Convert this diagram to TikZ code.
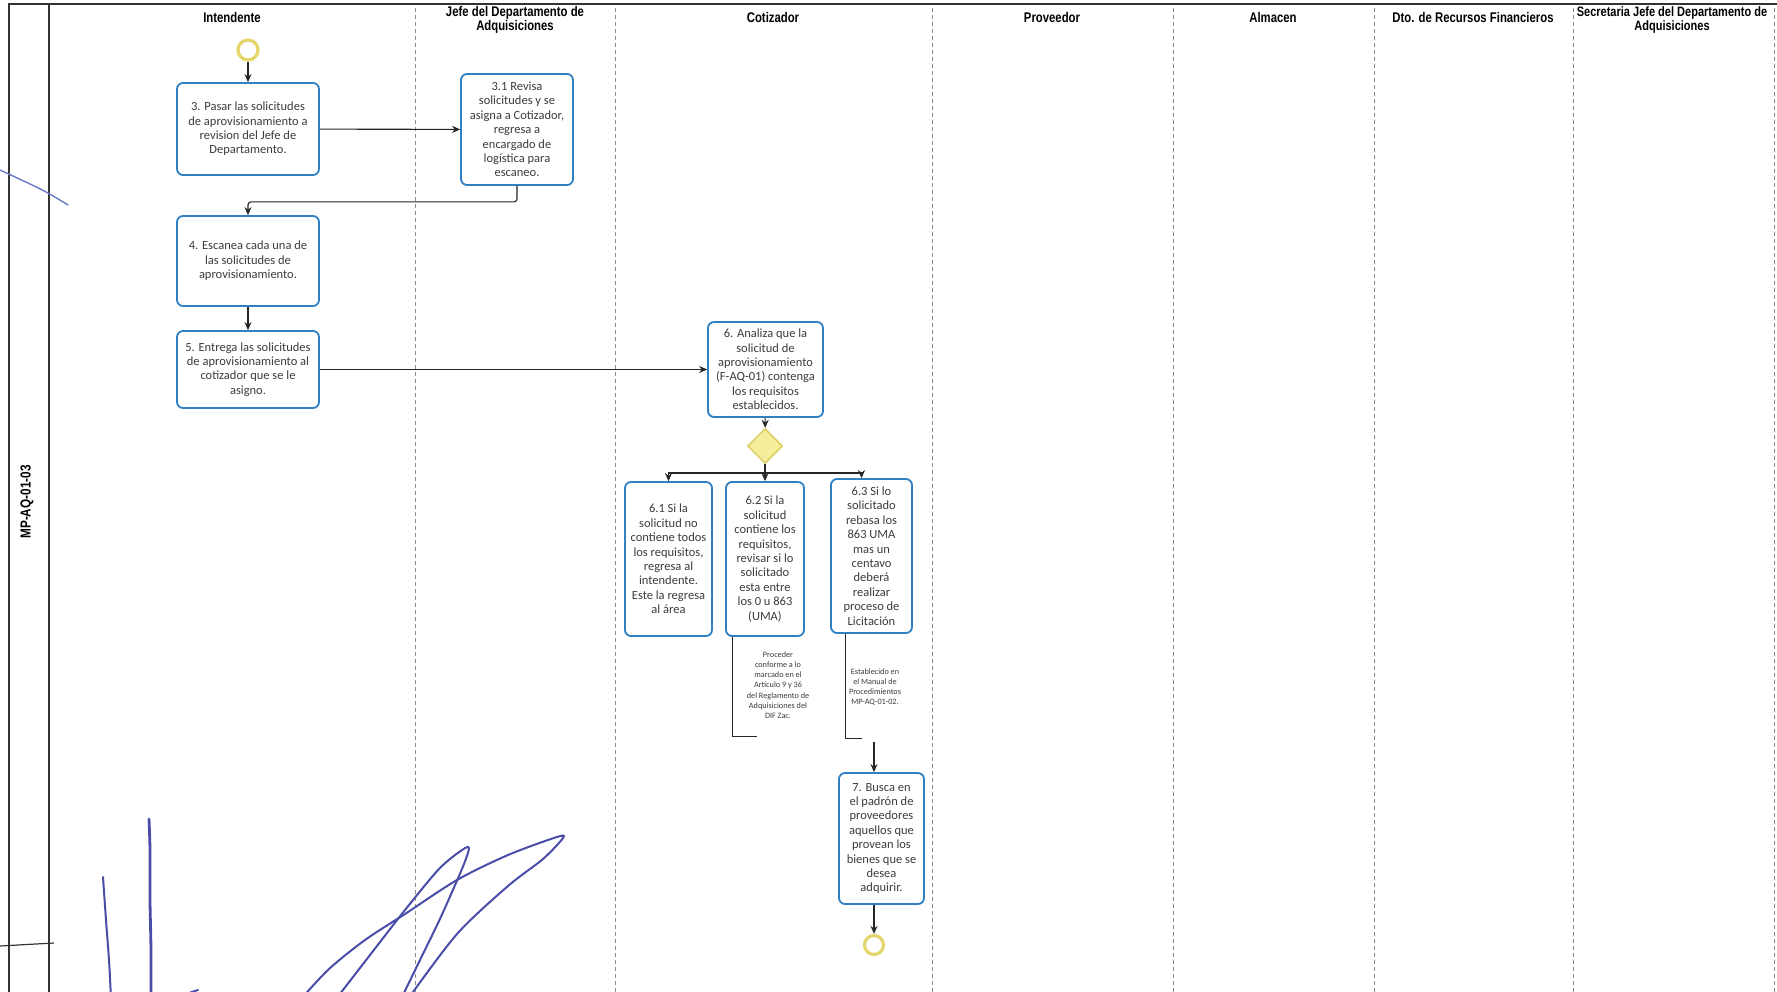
\documentclass[tikz,border=0pt]{standalone}
\usepackage{fontspec}
\setmainfont{Carlito}
\newfontfamily\hdrfont[FakeStretch=0.81]{Liberation Sans}
\usetikzlibrary{arrows.meta,shapes.geometric}

\definecolor{taskblue}{HTML}{2F80C4}
\definecolor{tasktext}{HTML}{3C3C3C}
\definecolor{flowgray}{HTML}{262626}
\definecolor{lanegray}{HTML}{8C8C8C}
\definecolor{eventring}{HTML}{E3D66A}
\definecolor{gatefill}{HTML}{F6EE9C}
\definecolor{gatedraw}{HTML}{DCCF62}
\definecolor{ink}{HTML}{4A4DA8}
\definecolor{inklight}{HTML}{6A78C8}

\tikzset{
  task/.style={draw=taskblue, line width=1.8pt, rounded corners=6pt, fill=white,
    text=tasktext, align=center, inner sep=0pt, font=\fontsize{12.5}{14.4}\selectfont},
  flow/.style={draw=flowgray, line width=1.1pt, -{Stealth[length=8pt,width=7pt]}},
  annot/.style={draw=flowgray, line width=1.1pt},
  note/.style={text=tasktext, align=center, font=\fontsize{8.2}{10.2}\selectfont, inner sep=0pt},
  lanehdr/.style={font=\hdrfont\bfseries\fontsize{14}{14}\selectfont, align=center, inner sep=0pt},
  lanesep/.style={draw=lanegray, line width=0.9pt, dash pattern=on 4pt off 3pt},
  frameline/.style={draw=black!80, line width=1.4pt},
  event/.style={circle, draw=eventring, line width=3.2pt, fill=white, minimum size=20pt, inner sep=0pt},
  gateway/.style={diamond, aspect=1, draw=gatedraw, fill=gatefill, line width=1.5pt,
    minimum width=35pt, minimum height=35pt, inner sep=0pt},
  pen/.style={draw=ink, line width=2pt, line cap=round, line join=round},
}

\begin{document}
\begin{tikzpicture}[x=1pt,y=-1pt]
\clip (0,0) rectangle (1777,992);
\fill[white] (0,0) rectangle (1777,992);

% pool frame and lane label column
\draw[frameline] (9,992) -- (9,4) -- (1777,4);
\draw[frameline] (49,4) -- (49,992);
\node[lanehdr, rotate=90, font=\hdrfont\bfseries\fontsize{14.5}{14.5}\selectfont] (pool) at (27,502) {MP-AQ-01-03};

% lane separators
\foreach \lx in {415,615,932,1173,1374,1573,1774}
  \draw[lanesep] (\lx,8) -- (\lx,992);

% lane headers
\node[lanehdr] (h1) at (232,18) {Intendente};
\node[lanehdr] (h2) at (515,20) {Jefe del Departamento de\\Adquisiciones};
\node[lanehdr] (h3) at (773,18) {Cotizador};
\node[lanehdr] (h4) at (1052,18) {Proveedor};
\node[lanehdr] (h5) at (1273,18) {Almacen};
\node[lanehdr] (h6) at (1473,18) {Dto. de Recursos Financieros};
\node[lanehdr, font=\hdrfont\bfseries\fontsize{13.6}{14}\selectfont] (h7) at (1672,20) {Secretaria Jefe del Departamento de\\Adquisiciones};

% events and gateway
\node[event] (startev) at (248,50) {};
\node[event, minimum size=19pt] (endev) at (874,945) {};
\node[gateway] (gw) at (765,446) {};

% tasks
\node[task, minimum width=142pt, minimum height=92pt] (t3) at (248,129)
  {3. Pasar las solicitudes\\de aprovisionamiento a\\revision del Jefe de\\Departamento.};
\node[task, minimum width=112pt, minimum height=111pt] (t31) at (517,129.5)
  {3.1 Revisa\\solicitudes y se\\asigna a Cotizador,\\regresa a\\encargado de\\logística para\\escaneo.};
\node[task, minimum width=142pt, minimum height=90pt] (t4) at (248,261)
  {4. Escanea cada una de\\las solicitudes de\\aprovisionamiento.};
\node[task, minimum width=142pt, minimum height=77pt] (t5) at (248,369.5)
  {5. Entrega las solicitudes\\de aprovisionamiento al\\cotizador que se le\\asigno.};
\node[task, minimum width=115pt, minimum height=95pt] (t6) at (765.5,369.5)
  {6. Analiza que la\\solicitud de\\aprovisionamiento\\(F-AQ-01) contenga\\los requisitos\\establecidos.};
\node[task, minimum width=87pt, minimum height=154pt] (t61) at (668.5,559)
  {6.1 Si la\\solicitud no\\contiene todos\\los requisitos,\\regresa al\\intendente.\\Este la regresa\\al área};
\node[task, minimum width=78pt, minimum height=154pt] (t62) at (765,559)
  {6.2 Si la\\solicitud\\contiene los\\requisitos,\\revisar si lo\\solicitado\\esta entre\\los 0 u 863\\(UMA)};
\node[task, minimum width=81pt, minimum height=154pt] (t63) at (871.5,556)
  {6.3 Si lo\\solicitado\\rebasa los\\863 UMA\\mas un\\centavo\\deberá\\realizar\\proceso de\\Licitación};
\node[task, minimum width=85pt, minimum height=131pt] (t7) at (881.5,838.5)
  {7. Busca en\\el padrón de\\proveedores\\aquellos que\\provean los\\bienes que se\\desea\\adquirir.};

% text annotations
\node[note] (n62) at (778,685)
  {Proceder\\conforme a lo\\marcado en el\\Artículo 9 y 36\\del Reglamento de\\Adquisiciones del\\DIF Zac.};
\node[note] (n63) at (875,687)
  {Establecido en\\el Manual de\\Procedimientos\\MP-AQ-01-02.};

% sequence flows
\draw[flow] (startev) -- (t3);
\draw[flow] (t3) -- (t31);
\draw[flow, rounded corners=3pt] (t31.south) -- ++(0,16) -| (t4.north);
\draw[flow] (t4) -- (t5);
\draw[flow] (t5) -- (t6);
\draw[flow] (t6) -- (gw);

\coordinate (split) at (765,473);
\coordinate (in63) at ([xshift=-10pt]t63.north);
\draw[annot] (gw.south) -- (split);
\draw[flow] (split) -| (t61.north);
\draw[flow] (split) -- (t62.north);
\draw[flow] (split) -| (in63);

% annotation brackets
\coordinate (a62) at ([xshift=7pt]t62.south west);
\coordinate (a63) at ([xshift=15pt]t63.south west);
\draw[annot] (a62) -- ++(0,100) -- ++(25,0);
\draw[annot] (a63) -- ++(0,105) -- ++(17,0);

\coordinate (in7) at (874,742);
\draw[flow] (in7) -- (in7 |- t7.north);
\draw[flow] (t7.south -| endev) -- (endev);

% handwritten marks
\draw[draw=inklight, line width=1.4pt, line cap=round] plot[smooth] coordinates {(0,170) (30,184) (48,193) (68,205)};
\draw[draw=black!80, line width=1.2pt] (0,946) -- (54,943);
\draw[pen] plot[smooth] coordinates {(103,877) (106,920) (109,960) (111,998)};
\draw[pen, line width=2.8pt] plot[smooth] coordinates {(149,819) (150,850) (150,900) (151,950) (151,998)};
\draw[pen] (177,997) -- (198,990);
\draw[pen] plot[smooth] coordinates {(336,999) (370,955) (405,910) (439,869) (462,850) (469,848) (464,864) (452,892) (439,921) (420,960) (401,999)};
\draw[pen] plot[smooth] coordinates {(301,999) (329,969) (365,940) (405,914) (457,880) (508,855) (557,837) (563,838) (543,859) (508,886) (457,934) (408,999)};
\end{tikzpicture}
\end{document}
